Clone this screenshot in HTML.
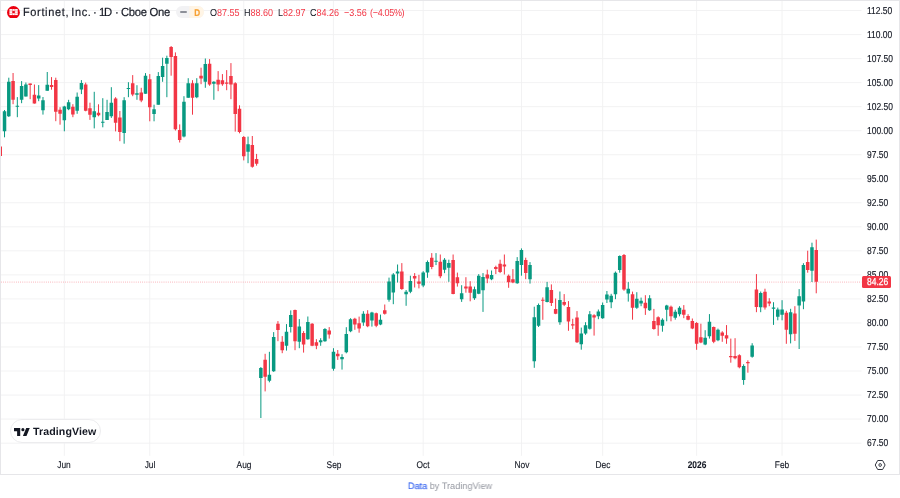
<!DOCTYPE html>
<html><head><meta charset="utf-8"><title>FTNT chart</title>
<style>
html,body{margin:0;padding:0;background:#fff;}
body{width:900px;height:498px;position:relative;overflow:hidden;font-family:"Liberation Sans",sans-serif;color:#131722;text-rendering:geometricPrecision;}
#w{position:absolute;left:0;top:0;width:900px;height:475px;box-sizing:border-box;border:1px solid #e6e6e9;background:#fff;overflow:hidden;}
#in{position:absolute;left:-1px;top:-1px;width:900px;height:475px;will-change:transform;}
#chart{position:absolute;left:0;top:0;}
.pl{position:absolute;left:866.6px;width:34px;height:11px;line-height:11px;font-size:10.1px;white-space:nowrap;transform:scaleX(0.838);transform-origin:0 50%;-webkit-text-stroke:0.15px #131722;}
.tl{position:absolute;top:460.2px;width:40px;text-align:center;height:11px;line-height:11px;font-size:9.7px;white-space:nowrap;transform:scaleX(0.863);-webkit-text-stroke:0.12px #131722;}
.tl.b{font-weight:bold;}
#hdr{position:absolute;left:0;top:0;height:24px;white-space:nowrap;}
#logo{position:absolute;left:7px;top:5.5px;width:12.9px;height:12.9px;}
#title{position:absolute;left:-0.4px;top:5.45px;height:14px;line-height:14px;font-size:11.8px;white-space:nowrap;}
#title span{position:absolute;top:0;letter-spacing:-0.08px;transform-origin:0 50%;-webkit-text-stroke:0.18px #131722;}
#title span.n{transform:scaleX(0.957);}
#pill{position:absolute;left:176.2px;top:6.3px;width:28.3px;height:12px;border-radius:6px;background:#f2f2f4;overflow:hidden;}
#pill .o{position:absolute;left:13.3px;top:0;width:15px;height:12px;background:linear-gradient(90deg,#f8f3ec 0,#fff4e4 3px,#fff5e6 100%);}
#pill .d{position:absolute;left:3.9px;top:4.6px;width:6.9px;height:2.3px;border-radius:1.1px;background:#8d9099;}
#pill .D{position:absolute;left:13.5px;top:1.4px;width:14.5px;text-align:center;height:12px;line-height:11.6px;font-size:9.7px;color:#f6a033;font-weight:bold;transform:scaleX(0.84);-webkit-text-stroke:0.2px #f6a033;}
#ohlc{position:absolute;left:0;top:8.3px;height:12px;line-height:12px;font-size:10.2px;white-space:nowrap;color:#f23645;}
#ohlc i{font-style:normal;color:#131722;}
#ohlc span{position:absolute;top:0;transform:scaleX(0.885);transform-origin:0 50%;}
#last{position:absolute;left:861.5px;top:276.3px;width:29.7px;height:11.6px;background:#f23645;border-radius:1.5px;}
#last span{position:absolute;left:5.1px;top:1.2px;color:#fff;-webkit-text-stroke:0.25px #fff;font-size:10.1px;line-height:11.6px;white-space:nowrap;transform:scaleX(0.838);transform-origin:0 50%;}
#tv{position:absolute;left:9.8px;top:419.3px;width:91.5px;height:24.2px;box-sizing:border-box;border:1px solid #ececee;border-radius:12px;background:#fff;}
#tv svg{position:absolute;left:3px;top:7.9px;}
#tv span{position:absolute;left:22.1px;top:5.8px;height:13px;line-height:13px;font-size:10.6px;font-weight:bold;letter-spacing:0.12px;color:#131722;white-space:nowrap;}
#gear{position:absolute;left:873.4px;top:457.9px;}
#foot{will-change:transform;position:absolute;left:0;top:480.3px;width:900px;text-align:center;height:12px;line-height:12px;font-size:9.3px;color:#9598a1;transform:scaleX(0.985);white-space:nowrap;}
#foot b{font-weight:normal;color:#3d6af0;-webkit-text-stroke:0.2px #3d6af0;}
</style></head><body>
<div id="w"><div id="in">
<svg id="chart" width="900" height="475" viewBox="0 0 900 475">
<g stroke="#f0f0f2" stroke-width="0.9" fill="none"><line x1="1" x2="861.5" y1="10.50" y2="10.50"/><line x1="1" x2="861.5" y1="34.54" y2="34.54"/><line x1="1" x2="861.5" y1="58.57" y2="58.57"/><line x1="1" x2="861.5" y1="82.61" y2="82.61"/><line x1="1" x2="861.5" y1="106.64" y2="106.64"/><line x1="1" x2="861.5" y1="130.68" y2="130.68"/><line x1="1" x2="861.5" y1="154.71" y2="154.71"/><line x1="1" x2="861.5" y1="178.75" y2="178.75"/><line x1="1" x2="861.5" y1="202.78" y2="202.78"/><line x1="1" x2="861.5" y1="226.82" y2="226.82"/><line x1="1" x2="861.5" y1="250.85" y2="250.85"/><line x1="1" x2="861.5" y1="274.89" y2="274.89"/><line x1="1" x2="861.5" y1="298.92" y2="298.92"/><line x1="1" x2="861.5" y1="322.96" y2="322.96"/><line x1="1" x2="861.5" y1="346.99" y2="346.99"/><line x1="1" x2="861.5" y1="371.03" y2="371.03"/><line x1="1" x2="861.5" y1="395.06" y2="395.06"/><line x1="1" x2="861.5" y1="419.10" y2="419.10"/><line x1="1" x2="861.5" y1="443.13" y2="443.13"/><line x1="64.34" x2="64.34" y1="1" y2="455.8"/><line x1="149.78" x2="149.78" y1="1" y2="455.8"/><line x1="243.77" x2="243.77" y1="1" y2="455.8"/><line x1="333.48" x2="333.48" y1="1" y2="455.8"/><line x1="423.20" x2="423.20" y1="1" y2="455.8"/><line x1="521.46" x2="521.46" y1="1" y2="455.8"/><line x1="602.63" x2="602.63" y1="1" y2="455.8"/><line x1="696.62" x2="696.62" y1="1" y2="455.8"/><line x1="782.07" x2="782.07" y1="1" y2="455.8"/></g>
<line x1="1" x2="861.5" y1="282.1" y2="282.1" stroke="#f23645" stroke-width="0.75" stroke-dasharray="0.75 1.39" opacity="0.62"/>
<path d="M4.53 110.0V137.3M8.80 77.7V117.0M17.34 97.1V117.2M21.61 81.1V103.2M25.89 82.5V96.5M38.70 85.1V101.2M42.97 97.0V114.6M47.25 72.0V90.7M64.34 105.8V131.3M68.61 99.8V110.2M77.15 92.5V113.8M81.42 80.1V94.1M94.24 91.8V128.4M102.79 98.2V127.3M107.06 99.8V119.9M111.33 87.2V117.9M124.15 97.2V143.7M128.42 82.2V97.2M136.96 85.2V99.8M145.51 73.1V93.8M154.05 104.7V121.3M158.32 72.1V104.7M162.60 57.7V81.8M166.87 55.7V97.2M183.96 96.2V137.4M188.23 78.2V97.8M196.77 78.2V98.2M205.32 58.5V87.8M213.86 81.2V99.8M248.04 136.6V163.2M260.86 367.0V418.0M269.40 351.8V382.3M273.67 332.1V371.9M286.49 324.1V350.6M290.76 310.4V332.5M299.31 319.1V348.2M307.85 316.5V339.8M320.67 338.2V345.8M324.94 328.1V341.8M333.48 348.2V370.7M342.03 354.2V369.6M346.30 327.2V353.3M350.57 318.2V332.2M363.39 311.2V325.8M371.93 311.8V326.6M380.48 314.6V325.2M389.02 277.6V301.7M393.30 273.1V304.2M397.57 264.5V282.5M406.11 290.0V305.8M410.38 275.7V293.2M423.20 271.2V287.2M427.47 260.5V277.8M436.02 253.1V265.1M444.56 258.1V273.2M448.83 259.7V281.8M461.65 285.2V301.9M474.47 286.6V299.9M478.74 274.1V294.2M483.01 273.1V311.9M491.56 270.5V280.2M517.19 257.1V283.8M521.46 248.4V275.7M530.01 262.1V283.6M534.28 306.7V367.8M538.55 303.5V327.0M547.09 281.9V302.4M559.91 291.5V324.8M581.27 327.6V349.7M585.54 322.2V334.8M589.82 311.1V329.6M598.36 309.5V319.2M602.63 302.5V318.8M606.91 291.0V303.0M611.18 293.8V308.2M615.45 271.5V299.2M619.72 255.4V272.7M628.27 282.1V301.6M636.81 292.2V308.9M641.08 297.6V306.2M649.63 295.2V310.9M662.44 318.3V331.7M666.72 304.8V321.3M675.26 309.7V319.7M679.53 306.2V316.3M705.17 330.2V345.2M709.44 314.1V338.6M717.98 328.6V341.2M743.62 364.3V384.8M752.16 343.2V357.7M760.70 291.5V312.2M773.52 302.2V324.9M777.79 307.6V320.3M782.07 300.2V320.3M790.61 308.8V343.4M799.15 289.1V349.0M803.43 263.2V309.2M811.97 242.7V282.0" stroke="#089981" stroke-width="1.0" fill="none"/>
<path d="M0.25 146.6V156.0M13.07 73.0V104.2M30.16 83.5V99.2M34.43 84.5V103.6M51.52 77.1V89.7M55.79 77.7V121.2M60.06 107.2V124.7M72.88 104.2V117.2M85.70 82.6V111.3M89.97 102.7V119.9M98.51 104.3V116.3M115.60 97.2V131.4M119.87 111.0V141.2M132.69 75.1V96.2M141.24 87.8V102.2M149.78 74.1V121.3M171.14 46.0V75.7M175.41 52.4V130.5M179.69 124.4V142.5M192.50 80.2V114.7M201.05 67.7V84.2M209.59 59.1V85.8M218.14 71.1V91.2M222.41 74.1V85.8M226.68 70.1V90.2M230.95 63.1V99.2M235.22 82.2V131.6M239.50 105.3V133.3M243.77 136.0V160.4M252.31 136.0V167.7M256.58 153.9V165.7M265.13 353.8V391.4M277.95 321.1V341.2M282.22 336.1V353.2M295.03 309.6V350.2M303.58 331.1V352.6M312.12 323.1V346.2M316.40 339.2V349.2M329.21 327.1V338.6M337.76 350.0V359.9M354.85 317.8V329.8M359.12 316.6V332.7M367.66 310.2V327.2M376.21 312.6V327.2M384.75 304.5V314.6M401.84 263.1V289.9M414.66 273.1V287.5M418.93 274.8V288.4M431.75 253.1V269.2M440.29 254.5V278.2M453.11 254.5V294.3M457.38 272.6V286.6M465.92 277.2V292.7M470.19 281.2V301.3M487.28 269.7V283.2M495.83 265.7V274.1M500.10 259.7V273.1M504.37 254.5V274.5M508.64 274.5V287.8M512.92 269.1V283.2M525.73 257.7V279.2M542.82 297.4V319.8M551.37 284.4V306.0M555.64 298.5V314.2M564.18 294.1V306.1M568.46 301.1V330.8M572.73 318.8V329.2M577.00 311.1V343.0M594.09 314.2V335.6M623.99 254.0V290.8M632.54 291.6V319.7M645.36 295.2V314.9M653.90 308.9V329.7M658.17 316.3V335.8M670.99 305.6V321.3M683.80 305.1V318.2M688.08 314.2V320.3M692.35 318.5V329.2M696.62 322.1V349.8M700.89 323.7V343.2M713.71 326.5V343.2M722.25 331.2V341.8M726.53 325.1V343.8M730.80 338.6V362.7M735.07 338.2V359.3M739.34 354.3V368.3M747.89 360.3V372.7M756.43 274.1V312.2M764.98 288.7V309.6M769.25 298.2V306.2M786.34 310.8V343.8M794.88 306.2V340.9M807.70 250.7V272.7M816.24 239.6V293.3" stroke="#f23645" stroke-width="1.0" fill="none"/>
<path d="M2.78 111.2h3.5V131.3h-3.5zM7.05 81.7h3.5V116.2h-3.5zM15.59 105.7h3.5V106.7h-3.5zM19.86 86.1h3.5V99.8h-3.5zM24.14 84.5h3.5V96.5h-3.5zM36.95 95.5h3.5V98.6h-3.5zM41.22 100.2h3.5V110.2h-3.5zM45.50 84.7h3.5V90.7h-3.5zM62.59 106.6h3.5V120.2h-3.5zM66.86 102.2h3.5V109.2h-3.5zM75.40 96.7h3.5V110.8h-3.5zM79.67 83.1h3.5V89.5h-3.5zM92.49 111.3h3.5V117.3h-3.5zM101.04 121.8h3.5V122.8h-3.5zM105.31 111.9h3.5V119.9h-3.5zM109.58 102.7h3.5V116.3h-3.5zM122.40 100.2h3.5V132.9h-3.5zM126.67 88.1h3.5V89.1h-3.5zM135.21 93.2h3.5V94.8h-3.5zM143.76 75.7h3.5V93.8h-3.5zM152.30 109.3h3.5V113.9h-3.5zM156.57 76.1h3.5V104.7h-3.5zM160.85 66.1h3.5V77.1h-3.5zM165.12 58.1h3.5V63.7h-3.5zM182.21 101.8h3.5V136.5h-3.5zM186.48 83.2h3.5V97.8h-3.5zM195.02 83.2h3.5V97.2h-3.5zM203.57 64.1h3.5V81.8h-3.5zM212.11 81.8h3.5V83.8h-3.5zM246.29 144.3h3.5V151.7h-3.5zM259.11 367.9h3.5V377.9h-3.5zM267.65 374.7h3.5V380.7h-3.5zM271.92 337.1h3.5V371.3h-3.5zM284.74 331.7h3.5V345.8h-3.5zM289.01 315.1h3.5V327.1h-3.5zM297.56 326.5h3.5V341.8h-3.5zM306.10 322.1h3.5V339.2h-3.5zM318.92 340.2h3.5V342.2h-3.5zM323.19 329.1h3.5V341.2h-3.5zM331.73 351.8h3.5V368.7h-3.5zM340.28 357.0h3.5V359.3h-3.5zM344.55 333.9h3.5V352.3h-3.5zM348.82 319.2h3.5V331.2h-3.5zM361.64 313.8h3.5V322.6h-3.5zM370.18 312.6h3.5V320.6h-3.5zM378.73 319.8h3.5V324.6h-3.5zM387.27 281.6h3.5V299.7h-3.5zM391.55 274.5h3.5V292.6h-3.5zM395.82 271.5h3.5V273.5h-3.5zM404.36 291.7h3.5V294.2h-3.5zM408.63 281.1h3.5V291.7h-3.5zM421.45 272.6h3.5V285.5h-3.5zM425.72 262.1h3.5V272.6h-3.5zM434.27 260.7h3.5V261.7h-3.5zM442.81 259.7h3.5V269.8h-3.5zM447.08 263.1h3.5V267.8h-3.5zM459.90 293.3h3.5V299.3h-3.5zM472.72 289.2h3.5V298.3h-3.5zM476.99 275.7h3.5V293.8h-3.5zM481.26 277.1h3.5V290.2h-3.5zM489.81 275.1h3.5V279.2h-3.5zM515.44 261.1h3.5V283.2h-3.5zM519.71 250.0h3.5V265.1h-3.5zM528.26 265.1h3.5V279.2h-3.5zM532.53 317.2h3.5V361.3h-3.5zM536.80 305.0h3.5V325.7h-3.5zM545.34 287.3h3.5V302.0h-3.5zM558.16 300.0h3.5V322.2h-3.5zM579.52 333.6h3.5V344.3h-3.5zM583.79 325.2h3.5V333.6h-3.5zM588.07 314.2h3.5V328.8h-3.5zM596.61 311.5h3.5V316.2h-3.5zM600.88 305.0h3.5V318.2h-3.5zM605.16 294.4h3.5V299.5h-3.5zM609.43 295.8h3.5V302.2h-3.5zM613.70 272.7h3.5V294.2h-3.5zM617.97 256.0h3.5V270.1h-3.5zM626.52 288.8h3.5V293.6h-3.5zM635.06 298.8h3.5V307.7h-3.5zM639.33 300.8h3.5V303.6h-3.5zM647.88 298.2h3.5V310.3h-3.5zM660.69 319.7h3.5V325.7h-3.5zM664.97 305.6h3.5V309.7h-3.5zM673.51 311.7h3.5V317.7h-3.5zM677.78 307.7h3.5V314.3h-3.5zM703.42 337.8h3.5V344.6h-3.5zM707.69 321.7h3.5V336.2h-3.5zM716.23 329.8h3.5V340.2h-3.5zM741.87 365.9h3.5V380.0h-3.5zM750.41 345.6h3.5V356.7h-3.5zM758.95 293.1h3.5V307.2h-3.5zM771.77 307.6h3.5V308.8h-3.5zM776.04 309.6h3.5V316.8h-3.5zM780.32 309.6h3.5V314.8h-3.5zM788.86 312.2h3.5V334.3h-3.5zM797.40 296.2h3.5V305.6h-3.5zM801.68 265.0h3.5V301.6h-3.5zM810.22 247.3h3.5V270.7h-3.5z" fill="#089981"/>
<path d="M-1.50 146.6h3.5V156.0h-3.5zM11.32 81.1h3.5V99.8h-3.5zM28.41 83.5h3.5V84.9h-3.5zM32.68 94.7h3.5V103.6h-3.5zM49.77 85.1h3.5V87.1h-3.5zM54.04 80.1h3.5V111.8h-3.5zM58.31 109.8h3.5V113.8h-3.5zM71.13 106.8h3.5V114.6h-3.5zM83.95 84.6h3.5V110.7h-3.5zM88.22 108.3h3.5V114.7h-3.5zM96.76 112.7h3.5V115.3h-3.5zM113.85 98.6h3.5V122.7h-3.5zM118.12 117.5h3.5V132.0h-3.5zM130.94 83.2h3.5V94.6h-3.5zM139.49 92.6h3.5V100.6h-3.5zM148.03 79.2h3.5V107.3h-3.5zM169.39 47.0h3.5V57.1h-3.5zM173.66 56.1h3.5V129.2h-3.5zM177.94 130.1h3.5V140.1h-3.5zM190.75 83.2h3.5V97.8h-3.5zM199.30 75.7h3.5V78.6h-3.5zM207.84 63.7h3.5V84.6h-3.5zM216.39 79.8h3.5V84.6h-3.5zM220.66 80.2h3.5V84.2h-3.5zM224.93 82.6h3.5V83.8h-3.5zM229.20 76.1h3.5V84.6h-3.5zM233.47 83.2h3.5V114.0h-3.5zM237.75 108.7h3.5V132.0h-3.5zM242.02 137.0h3.5V156.2h-3.5zM250.56 145.1h3.5V166.7h-3.5zM254.83 159.1h3.5V163.7h-3.5zM263.38 359.8h3.5V376.7h-3.5zM276.20 323.7h3.5V330.1h-3.5zM280.47 341.8h3.5V350.2h-3.5zM293.28 310.0h3.5V341.2h-3.5zM301.83 333.1h3.5V344.6h-3.5zM310.37 323.7h3.5V345.8h-3.5zM314.65 342.2h3.5V345.8h-3.5zM327.46 330.5h3.5V334.5h-3.5zM336.01 353.8h3.5V356.2h-3.5zM353.10 318.8h3.5V324.6h-3.5zM357.37 323.2h3.5V328.6h-3.5zM365.91 313.8h3.5V326.2h-3.5zM374.46 313.2h3.5V325.8h-3.5zM383.00 310.2h3.5V313.8h-3.5zM400.09 271.5h3.5V289.1h-3.5zM412.91 276.1h3.5V278.5h-3.5zM417.18 281.4h3.5V283.7h-3.5zM430.00 257.7h3.5V267.1h-3.5zM438.54 261.7h3.5V276.2h-3.5zM451.36 260.1h3.5V293.9h-3.5zM455.63 277.2h3.5V283.2h-3.5zM464.17 286.6h3.5V288.6h-3.5zM468.44 286.6h3.5V292.7h-3.5zM485.53 274.5h3.5V278.6h-3.5zM494.08 267.1h3.5V269.1h-3.5zM498.35 263.7h3.5V272.1h-3.5zM502.62 264.5h3.5V266.5h-3.5zM506.89 275.7h3.5V282.2h-3.5zM511.17 279.2h3.5V282.6h-3.5zM523.98 260.1h3.5V273.1h-3.5zM541.07 299.7h3.5V300.7h-3.5zM549.62 290.1h3.5V302.9h-3.5zM553.89 308.9h3.5V313.8h-3.5zM562.43 302.1h3.5V304.7h-3.5zM566.71 307.1h3.5V321.6h-3.5zM570.98 324.2h3.5V325.6h-3.5zM575.25 317.6h3.5V342.3h-3.5zM592.34 315.2h3.5V317.6h-3.5zM622.24 255.0h3.5V289.6h-3.5zM630.79 294.2h3.5V307.7h-3.5zM643.61 302.8h3.5V308.3h-3.5zM652.15 320.9h3.5V328.9h-3.5zM656.42 317.3h3.5V325.3h-3.5zM669.24 306.8h3.5V316.3h-3.5zM682.05 309.7h3.5V314.7h-3.5zM686.33 315.9h3.5V319.7h-3.5zM690.60 321.1h3.5V328.6h-3.5zM694.87 323.1h3.5V343.8h-3.5zM699.14 337.2h3.5V342.6h-3.5zM711.96 327.1h3.5V341.8h-3.5zM720.50 332.6h3.5V335.8h-3.5zM724.78 335.2h3.5V338.6h-3.5zM729.05 355.9h3.5V357.3h-3.5zM733.32 355.9h3.5V358.3h-3.5zM737.59 355.3h3.5V367.3h-3.5zM746.14 361.9h3.5V363.3h-3.5zM754.68 289.5h3.5V307.0h-3.5zM763.23 291.8h3.5V307.6h-3.5zM767.50 301.4h3.5V303.6h-3.5zM784.59 312.8h3.5V329.7h-3.5zM793.13 313.6h3.5V333.7h-3.5zM805.95 262.0h3.5V269.9h-3.5zM814.49 250.0h3.5V281.7h-3.5z" fill="#f23645"/>
</svg>
<div class="pl" style="top:5.85px">112.50</div><div class="pl" style="top:29.89px">110.00</div><div class="pl" style="top:53.92px">107.50</div><div class="pl" style="top:77.95px">105.00</div><div class="pl" style="top:101.99px">102.50</div><div class="pl" style="top:126.03px">100.00</div><div class="pl" style="top:150.06px">97.50</div><div class="pl" style="top:174.09px">95.00</div><div class="pl" style="top:198.13px">92.50</div><div class="pl" style="top:222.17px">90.00</div><div class="pl" style="top:246.20px">87.50</div><div class="pl" style="top:270.24px">85.00</div><div class="pl" style="top:294.27px">82.50</div><div class="pl" style="top:318.31px">80.00</div><div class="pl" style="top:342.34px">77.50</div><div class="pl" style="top:366.38px">75.00</div><div class="pl" style="top:390.41px">72.50</div><div class="pl" style="top:414.45px">70.00</div><div class="pl" style="top:438.48px">67.50</div>
<div class="tl" style="left:44.3px">Jun</div><div class="tl" style="left:129.8px">Jul</div><div class="tl" style="left:223.8px">Aug</div><div class="tl" style="left:313.5px">Sep</div><div class="tl" style="left:403.2px">Oct</div><div class="tl" style="left:501.5px">Nov</div><div class="tl" style="left:582.6px">Dec</div><div class="tl b" style="left:676.6px">2026</div><div class="tl" style="left:762.1px">Feb</div>
<div id="last"><span>84.26</span></div>
<div id="hdr">
<svg id="logo" viewBox="0 0 18 18"><circle cx="9" cy="9" r="9" fill="#ec0010"/><g fill="#fff" transform="translate(0.1 -0.5)"><rect x="3.3" y="4.8" width="3.7" height="2.4"/><rect x="7.5" y="4.8" width="3.2" height="2.4"/><rect x="11.2" y="4.8" width="3.7" height="2.4"/><rect x="3.3" y="7.7" width="3.7" height="2.5"/><rect x="11.2" y="7.7" width="3.7" height="2.5"/><rect x="3.3" y="10.7" width="3.7" height="2.5"/><rect x="7.5" y="10.7" width="3.2" height="2.5"/><rect x="11.2" y="10.7" width="3.7" height="2.5"/></g><g fill="#fff" opacity="0.55" transform="translate(0.1 -0.5)"><rect x="7" y="4.8" width="0.5" height="8.4"/><rect x="10.7" y="4.8" width="0.5" height="8.4"/><rect x="3.3" y="7.2" width="11.6" height="0.5"/><rect x="3.3" y="10.2" width="11.6" height="0.5"/></g></svg>
<div id="title"><span style="left:23.3px;letter-spacing:0.7px;word-spacing:-1.7px;transform:scaleX(0.93)">Fortinet, Inc.</span><span style="left:93.6px" class="n">·</span><span style="left:99.7px;letter-spacing:-1.35px" class="n">1D</span><span style="left:115.3px" class="n">·</span><span style="left:121.3px;letter-spacing:-0.34px" class="n">Cboe One</span></div>
<div id="pill"><div class="o"></div><div class="d"></div><div class="D">D</div></div>
<div id="ohlc"><span style="left:209.8px"><i>O</i>87.55</span><span style="left:244.1px"><i>H</i>88.60</span><span style="left:278px"><i>L</i>82.97</span><span style="left:310.4px"><i>C</i>84.26</span><span style="left:344.1px">−3.56</span><span style="left:370.1px;letter-spacing:-0.36px">(−4.05%)</span></div>
</div>
<div id="tv"><svg width="16" height="8.2" viewBox="0 0 36 18"><path fill="#131722" d="M14 18H7V7H0V0h14v18zM35.5 0L28 18h-8l7.5-18h8z"/><circle cx="20" cy="3.5" r="3.5" fill="#131722"/></svg><span>TradingView</span></div>
<svg id="gear" width="14" height="14" viewBox="0 0 14 14"><path d="M4.7 2.5h4.9l2.5 4.5-2.5 4.5H4.7L2.2 7z" fill="none" stroke="#33363f" stroke-width="1" stroke-linejoin="round"/><ellipse cx="7.15" cy="7" rx="1.25" ry="1.45" fill="none" stroke="#33363f" stroke-width="0.95"/></svg>
</div></div>
<div id="foot"><b>Data</b> by TradingView</div>
</body></html>
